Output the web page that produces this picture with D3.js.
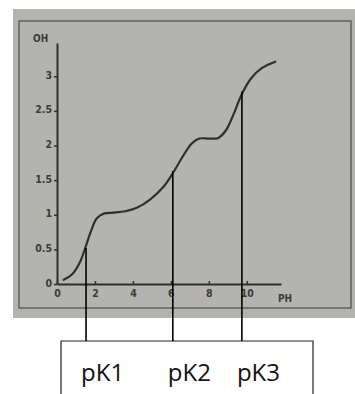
<!DOCTYPE html>
<html>
<head>
<meta charset="utf-8">
<script src="https://cdn.jsdelivr.net/npm/d3@7"></script>
<style>
  body { margin: 0; background: #fff; }
  svg { display: block; }
  .tick text, .axis-label { font-family: "DejaVu Sans Condensed", "DejaVu Sans", sans-serif; font-weight: bold; fill: #3a3a38; }
  .pk-label { font-family: "Open Sans", "Noto Sans", sans-serif; fill: #111; }
</style>
</head>
<body>
<svg id="chart"></svg>
<script>
// titration curve
const phValues = [0.35, 0.8, 1.2, 1.5, 1.8, 2.1, 2.5, 3.0, 3.6, 4.2, 4.9, 5.6, 6.1, 6.6, 7.1, 7.5, 8.0, 8.5, 8.9, 9.3, 9.7, 10.2, 10.8, 11.5];
const ohValues = [0.06, 0.14, 0.31, 0.53, 0.77, 0.95, 1.02, 1.03, 1.05, 1.1, 1.22, 1.4, 1.6, 1.83, 2.03, 2.1, 2.1, 2.11, 2.22, 2.45, 2.72, 2.96, 3.12, 3.21];

const xTicks = [0, 2, 4, 6, 8, 10];
const yTicks = [0, 0.5, 1, 1.5, 2, 2.5, 3];

// pK markers: pH and the OH where the line meets the curve
const pkNames = ['pK1', 'pK2', 'pK3'];
const pkPh = [1.53, 6.1, 9.74];
const pkOh = [0.52, 1.63, 2.78];

const width = 355, height = 394;

const svg = d3.select('#chart')
  .attr('width', width)
  .attr('height', height);

// photo background + printed frame
svg.append('rect')
  .attr('x', 13).attr('y', 9)
  .attr('width', 342).attr('height', 309)
  .attr('fill', '#b3b4af');

svg.append('rect')
  .attr('x', 19).attr('y', 21)
  .attr('width', 332).attr('height', 287)
  .attr('fill', 'none')
  .attr('stroke', '#555552')
  .attr('stroke-width', 1.3);

const x = d3.scaleLinear().domain([0, 11.8]).range([57, 281]);
const y = d3.scaleLinear().domain([0, 3.48]).range([284, 43]);

const xAxis = svg.append('g')
  .attr('transform', `translate(0,${y(0)})`)
  .call(d3.axisBottom(x).tickValues(xTicks).tickSize(-3).tickSizeOuter(0).tickPadding(6));

const yAxis = svg.append('g')
  .attr('transform', `translate(${x(0)},0)`)
  .call(d3.axisLeft(y).tickValues(yTicks).tickFormat(d => d).tickSize(3).tickSizeOuter(0).tickPadding(2));

[xAxis, yAxis].forEach(g => {
  g.select('.domain').attr('stroke', '#2e2e2c').attr('stroke-width', 2);
  g.selectAll('.tick line').attr('stroke', '#2e2e2c').attr('stroke-width', 1.5);
  g.selectAll('.tick text').attr('font-size', 10.5);
});
// the y tick labels sit a little above their ticks in the photo
yAxis.selectAll('.tick text').attr('dy', '0.2em');

svg.append('text')
  .attr('class', 'axis-label')
  .attr('x', 33).attr('y', 42)
  .attr('font-size', 10)
  .text('OH');

svg.append('text')
  .attr('class', 'axis-label')
  .attr('x', 278).attr('y', 302)
  .attr('font-size', 10)
  .text('PH');

// curve
const line = d3.line()
  .x((d, i) => x(phValues[i]))
  .y(d => y(d))
  .curve(d3.curveCatmullRom.alpha(0.5));

svg.append('path')
  .datum(ohValues)
  .attr('d', line)
  .attr('fill', 'none')
  .attr('stroke', '#2f2f2d')
  .attr('stroke-width', 2.2)
  .attr('stroke-linecap', 'round');

// annotation box below the photo
const boxTop = 341;
svg.append('path')
  .attr('d', `M61,${height}V${boxTop}H313V${height}`)
  .attr('fill', 'none')
  .attr('stroke', '#222')
  .attr('stroke-width', 1.2);

svg.selectAll('.pk-line')
  .data(pkPh)
  .enter().append('line')
  .attr('class', 'pk-line')
  .attr('x1', d => x(d)).attr('x2', d => x(d))
  .attr('y1', (d, i) => y(pkOh[i]))
  .attr('y2', boxTop)
  .attr('stroke', '#000')
  .attr('stroke-width', 1.6);

svg.selectAll('.pk-label')
  .data(pkNames)
  .enter().append('text')
  .attr('class', 'pk-label')
  .attr('x', (d, i) => x(pkPh[i]) - 5)
  .attr('y', 381)
  .attr('font-size', 24)
  .text(d => d);
</script>
</body>
</html>
